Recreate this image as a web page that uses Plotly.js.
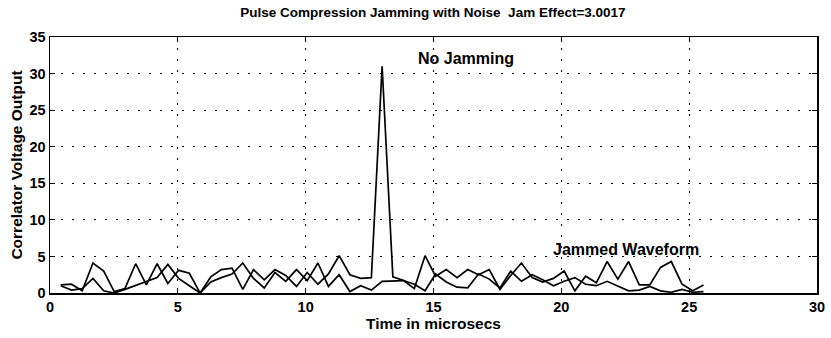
<!DOCTYPE html>
<html>
<head>
<meta charset="utf-8">
<script src="https://cdn.plot.ly/plotly-3.0.1.min.js"></script>
<style>
  html, body { margin: 0; padding: 0; background: #ffffff; }
  #chart { width: 831px; height: 338px; }
</style>
</head>
<body>
<div id="chart"></div>
<script>
// Correlator output sample times (microseconds)
const timeUs = [
  0.42, 0.84, 1.26, 1.68, 2.10, 2.51, 2.93, 3.35, 3.77, 4.19,
  4.61, 5.03, 5.45, 5.87, 6.29, 6.70, 7.12, 7.54, 7.96, 8.38,
  8.80, 9.22, 9.64, 10.06, 10.48, 10.89, 11.31, 11.73, 12.15, 12.57,
  12.99, 13.41, 13.83, 14.25, 14.67, 15.08, 15.50, 15.92, 16.34, 16.76,
  17.18, 17.60, 18.02, 18.44, 18.86, 19.27, 19.69, 20.11, 20.53, 20.95,
  21.37, 21.79, 22.21, 22.63, 23.05, 23.46, 23.88, 24.30, 24.72, 25.14,
  25.56
];

// Compressed pulse without jamming (main lobe at 31)
const noJamming = [
  1.1, 1.2, 0.3, 4.1, 3.0, 0.2, 0.6, 4.0, 1.1, 4.0,
  1.3, 3.1, 2.7, 0.0, 2.2, 3.2, 3.4, 0.5, 3.2, 1.8,
  3.2, 2.4, 0.9, 2.8, 1.2, 2.6, 5.1, 2.5, 2.0, 2.1,
  31.0, 2.2, 1.7, 0.6, 5.1, 2.3, 3.2, 2.1, 3.2, 2.5,
  3.2, 0.5, 2.4, 4.1, 2.1, 1.5, 2.0, 3.0, 0.3, 2.3,
  1.4, 4.3, 1.9, 4.3, 1.1, 1.1, 3.5, 4.3, 1.2, 0.3,
  1.1
];

// Correlator output with the noise jammer on
const jammed = [
  1.0, 0.4, 0.6, 2.0, 0.3, 0.0, 0.5, 1.0, 1.6, 2.1,
  3.9, 2.0, 1.0, 0.0, 1.5, 2.1, 2.6, 4.1, 2.0, 0.7,
  2.8, 1.6, 3.2, 1.7, 4.1, 0.9, 2.5, 0.2, 1.0, 0.4,
  1.6, 1.6, 1.7, 1.2, 0.3, 2.6, 1.5, 0.8, 0.7, 2.6,
  1.9, 0.7, 3.0, 1.6, 2.5, 1.8, 1.0, 1.6, 2.1, 1.2,
  1.0, 1.6, 0.9, 0.3, 0.4, 0.9, 0.3, 0.1, 0.5, 0.1,
  0.2
];

const xTicks = [0, 5, 10, 15, 20, 25, 30];
const yTicks = [0, 5, 10, 15, 20, 25, 30, 35];

const font = "Liberation Sans, Arial, Helvetica, sans-serif";
const lineStyle = { color: "#000000", width: 1.7 };

const traces = [
  { x: timeUs, y: noJamming, type: "scatter", mode: "lines", name: "No Jamming", line: lineStyle },
  { x: timeUs, y: jammed, type: "scatter", mode: "lines", name: "Jammed Waveform", line: lineStyle }
];

const axisCommon = {
  showline: true,
  linecolor: "#000000",
  linewidth: 1.5,
  mirror: "ticks",
  ticks: "inside",
  ticklen: 5,
  tickwidth: 1.2,
  tickcolor: "#000000",
  showgrid: true,
  gridcolor: "#000000",
  gridwidth: 1,
  griddash: "2px,9px",
  zeroline: false,
  tickfont: { family: font, size: 14.5, color: "#000000", weight: "bold" }
};

const layout = {
  width: 831,
  height: 338,
  margin: { l: 50, r: 14, t: 37, b: 45 },
  paper_bgcolor: "#ffffff",
  plot_bgcolor: "#ffffff",
  showlegend: false,
  title: {
    text: "Pulse Compression Jamming with Noise  Jam Effect=3.0017",
    font: { family: font, size: 13.5, color: "#000000", weight: "bold" },
    x: 0.521, xanchor: "center",
    y: 0.965, yanchor: "middle"
  },
  xaxis: Object.assign({}, axisCommon, {
    range: [0, 30],
    tickvals: xTicks,
    ticktext: xTicks.map(String),
    title: { text: "Time in microsecs", font: { family: font, size: 15.5, color: "#000000", weight: "bold" }, standoff: 2 }
  }),
  yaxis: Object.assign({}, axisCommon, {
    range: [0, 35],
    tickvals: yTicks,
    ticktext: yTicks.map(String),
    title: { text: "Correlator Voltage Output", font: { family: font, size: 15.5, color: "#000000", weight: "bold" }, standoff: 3 }
  }),
  annotations: [
    {
      x: 14.3, y: 32.0, xref: "x", yref: "y", xanchor: "left", yanchor: "middle",
      text: "No Jamming", showarrow: false,
      font: { family: font, size: 16, color: "#000000", weight: "bold" }
    },
    {
      x: 19.6, y: 6.0, xref: "x", yref: "y", xanchor: "left", yanchor: "middle",
      text: "Jammed Waveform", showarrow: false,
      font: { family: font, size: 16, color: "#000000", weight: "bold" }
    }
  ]
};

Plotly.newPlot("chart", traces, layout, { staticPlot: true, displayModeBar: false });
</script>
</body>
</html>
